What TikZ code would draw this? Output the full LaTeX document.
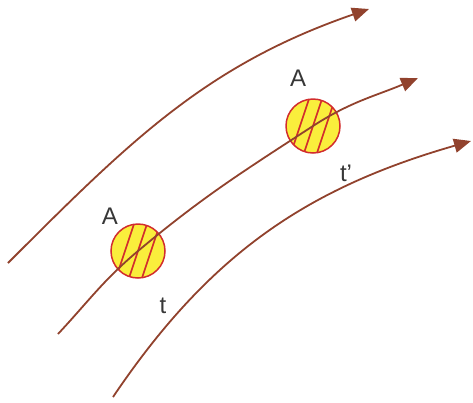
\documentclass[tikz,border=0pt]{standalone}
\usepackage{fontspec}
\setmainfont{Liberation Sans}
\usetikzlibrary{arrows.meta,calc}
\definecolor{flowc}{RGB}{145,66,45}
\definecolor{ringc}{RGB}{210,45,45}
\definecolor{ballc}{RGB}{250,238,60}
\definecolor{labc}{RGB}{55,55,55}
\begin{document}
\begin{tikzpicture}[x=1pt,y=-1pt,
  flow/.style={draw=flowc,line width=1.8pt,-{Triangle[length=17pt,width=14pt]}},
  ball/.style={circle,minimum size=54pt,inner sep=0pt,fill=ballc,draw=ringc,line width=1.5pt,
    path picture={
      \foreach \d in {-13,0,13}
        \draw[ringc,line width=1.7pt]
          ($(path picture bounding box.center)+(\d,0)+(-9,27)$) --
          ($(path picture bounding box.center)+(\d,0)+(9,-27)$);
    }},
  lab/.style={text=labc,font=\fontsize{24}{28}\selectfont,inner sep=0pt}]
\useasboundingbox (0,0) rectangle (473,402);
% balls
\node[ball] (c1) at (138,251) {};
\node[ball] (c2) at (313,126) {};
% flow lines
\coordinate (s1) at (8,263);
\coordinate (e1) at (369,9);
\coordinate (s2) at (58,334);
\coordinate (e2) at (418,78);
\coordinate (s3) at (113,397);
\coordinate (e3) at (471,141);
\draw[flow] (s1) to[out=45,in=199] (e1);
\draw[flow] (s2) to[out=47,in=220] (c1.center) to[out=40,in=213] (c2.center) to[out=33,in=203] (e2);
\draw[flow] (s3) to[out=56,in=196] (e3);
% labels
\node[lab] (a1) at (110,216) {A};
\node[lab] (a2) at (298,78) {A};
\node[lab] (t1) at (163,306) {t};
\node[lab] (t2) at (346,173) {t’};
\end{tikzpicture}
\end{document}
